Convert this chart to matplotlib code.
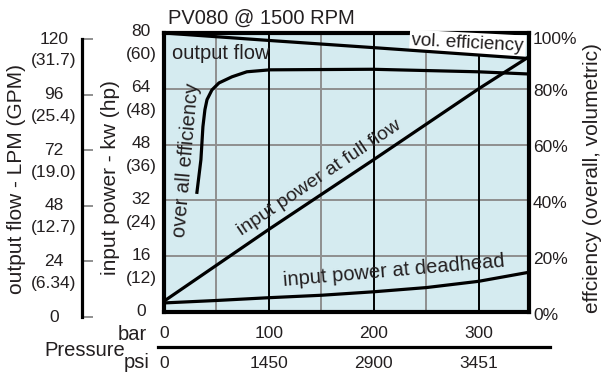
import matplotlib
matplotlib.use('Agg')
import matplotlib.pyplot as plt
from matplotlib.lines import Line2D

plt.rcParams['font.family'] = ['Liberation Sans', 'DejaVu Sans']
plt.rcParams['text.color'] = '#231f20'

## axis ticks ##################################################################
bar_ticks = [0, 100, 200, 300]
psi_labels = ['0', '1450', '2900', '3451']
bar_minor = [50, 150, 250]
kw_ticks = [0, 16, 32, 48, 64, 80]
hp_labels = ['', '(12)', '(24)', '(36)', '(48)', '(60)']
lpm_ticks = [0, 24, 48, 72, 96, 120]
gpm_labels = ['', '(6.34)', '(12.7)', '(19.0)', '(25.4)', '(31.7)']
eff_ticks = [0, 20, 40, 60, 80, 100]

## curves (x in bar) ###########################################################
# output flow, LPM
flow_bar = [0, 100, 200, 348]
flow_lpm = [120, 116.8, 113.7, 109.0]
# overall efficiency, %
eff_bar = [31.4, 35.2, 37.1, 39, 41, 45.7, 52.4, 64.8, 79, 101, 199, 299, 348]
eff_pct = [42.9, 54.6, 66.4, 72.5, 76.1, 79.6, 82.1, 84.3, 86.1, 86.8, 87.0, 86.1, 85.3]
# input power at full flow, kw
full_bar = [0, 100, 200, 300, 348]
full_kw = [3.1, 23.7, 43.7, 64.0, 73.2]
# input power at deadhead, kw
dead_bar = [0, 50, 100, 150, 200, 250, 300, 348]
dead_kw = [2.6, 3.3, 4.1, 4.8, 5.8, 7.0, 8.8, 11.4]

W, H = 602, 378
fig = plt.figure(figsize=(W / 100, H / 100), dpi=100)
ax = fig.add_axes([164 / W, 66 / H, 365 / W, 279 / H])
ax.set_facecolor('#d5ebf0')
ax.set_xlim(0, 348)
ax.set_ylim(0, 80)
ax.set_xticks([])
ax.set_yticks([])
for s in ax.spines.values():
    s.set_linewidth(3)

grey = '#8f8f8f'
for x in bar_minor:
    ax.axvline(x, color=grey, lw=1.4, zorder=1)
for y in kw_ticks[1:-1]:
    ax.axhline(y, color=grey, lw=1.4, zorder=1)
for x in bar_ticks[1:]:
    ax.axvline(x, color='black', lw=1.4, zorder=1.1)

ax.plot(full_bar, full_kw, color='black', lw=2.3, solid_capstyle='butt')
ax.plot(dead_bar, dead_kw, color='black', lw=2.3)

ax_flow = ax.twinx()
ax_flow.set_ylim(0, 120)
ax_flow.set_axis_off()
ax_flow.plot(flow_bar, flow_lpm, color='black', lw=2.3)

ax_eff = ax.twinx()
ax_eff.set_ylim(0, 100)
ax_eff.set_axis_off()
ax_eff.plot(eff_bar, eff_pct, color='black', lw=2.3, solid_joinstyle='round')

fs = 12.5
# left inner (kw / hp)
for v, hp in zip(kw_ticks, hp_labels):
    ax.annotate(str(v), xy=(0, v), xycoords=('axes fraction', 'data'), xytext=(-23, 1),
                textcoords='offset pixels', ha='center', va='center', fontsize=fs)
    if hp:
        ax.annotate(hp, xy=(0, v), xycoords=('axes fraction', 'data'), xytext=(-23, -22),
                    textcoords='offset pixels', ha='center', va='center', fontsize=fs)

# right (efficiency %)
for v in eff_ticks:
    dy = -7 if v == 100 else -3
    ax_eff.annotate(f'{v}%', xy=(1, v), xycoords=('axes fraction', 'data'), xytext=(4, dy),
                    textcoords='offset pixels', ha='left', va='center', fontsize=fs)

# bottom (bar / psi)
for b, p in zip(bar_ticks, psi_labels):
    ax.annotate(str(b), xy=(b, 0), xycoords=('data', 'axes fraction'), xytext=(0, -21),
                textcoords='offset pixels', ha='center', va='center', fontsize=fs)
    ax.annotate(p, xy=(b, 0), xycoords=('data', 'axes fraction'), xytext=(0, -51),
                textcoords='offset pixels', ha='center', va='center', fontsize=fs)

# outer left axis (LPM / GPM)
ax_out = fig.add_axes([82 / W, 61 / H, 0.03, 278 / H])
ax_out.set_ylim(0, 120)
ax_out.patch.set_visible(False)
for k in ['top', 'right', 'bottom']:
    ax_out.spines[k].set_visible(False)
ax_out.spines['left'].set_linewidth(2.3)
ax_out.set_xticks([])
ax_out.set_yticks(lpm_ticks)
ax_out.set_yticklabels([])
ax_out.tick_params(axis='y', direction='in', length=8, width=1.4, color=grey)
for v, g in zip(lpm_ticks, gpm_labels):
    ax_out.annotate(str(v), xy=(0, v), xycoords=('axes fraction', 'data'), xytext=(-28, 0),
                    textcoords='offset pixels', ha='center', va='center', fontsize=fs)
    if g:
        ax_out.annotate(g, xy=(0, v), xycoords=('axes fraction', 'data'), xytext=(-28, -22),
                        textcoords='offset pixels', ha='center', va='center', fontsize=fs)

# curve labels
lf = 14.5
ax.text(7.6, 74, 'output flow', ha='left', va='center', fontsize=lf)
ax.text(289.5, 77.1, 'vol. efficiency', ha='center', va='center', rotation=-3,
        rotation_mode='anchor', fontsize=13.5,
        bbox=dict(facecolor='white', edgecolor='none', pad=1.5), zorder=5)
ax.text(21, 43.7, 'over all efficiency', ha='center', va='center', rotation=85,
        rotation_mode='anchor', fontsize=lf)
ax.text(148, 38.5, 'input power at full flow', ha='center', va='center', rotation=34,
        rotation_mode='anchor', fontsize=14)
ax.text(219, 11.7, 'input power at deadhead', ha='center', va='center', rotation=5,
        rotation_mode='anchor', fontsize=lf)

# titles and axis names
fig.text(168 / W, 1 - 18 / H, 'PV080 @ 1500 RPM', ha='left', va='center', fontsize=14.5)
fig.text(17 / W, 1 - 179 / H, 'output flow - LPM (GPM)', rotation=90, ha='center',
         va='center', fontsize=15)
fig.text(111 / W, 1 - 178 / H, 'input power - kw (hp)', rotation=90, ha='center',
         va='center', fontsize=15)
fig.text(592 / W, 1 - 178 / H, 'effciency (overall, volumetric)', rotation=90,
         ha='center', va='center', fontsize=15)
fig.text(125 / W, 1 - 350 / H, 'Pressure', ha='right', va='center', fontsize=14.5)
fig.text(147 / W, 1 - 334 / H, 'bar', ha='right', va='center', fontsize=14.5)
fig.text(150 / W, 1 - 363 / H, 'psi', ha='right', va='center', fontsize=14.5)
fig.add_artist(Line2D([158 / W, 550 / W], [1 - 347 / H] * 2, color='black', lw=2.3))

fig.savefig('out.png', dpi=100, facecolor='white')
